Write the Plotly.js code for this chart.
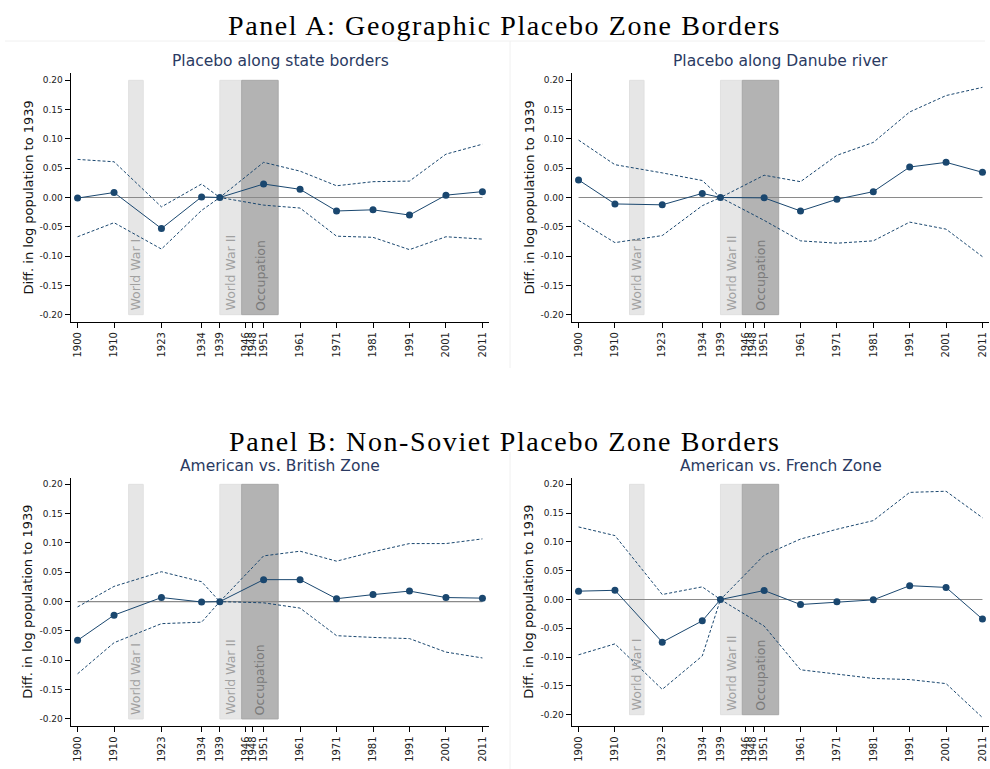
<!DOCTYPE html>
<html>
<head>
<meta charset="utf-8">
<script src="https://cdn.plot.ly/plotly-3.0.1.min.js"></script>
<style>
html,body{margin:0;padding:0;background:#fff;}
#chart{width:990px;height:769px;}
text[data-unformatted^="Panel"]{letter-spacing:1.6px;}
</style>
</head>
<body>
<div id="chart"></div>
<script>
// ---- data ----
var years = [1900, 1910, 1923, 1934, 1939, 1951, 1961, 1971, 1981, 1991, 2001, 2011];
var tickYears = [1900, 1910, 1923, 1934, 1939, 1946, 1948, 1951, 1961, 1971, 1981, 1991, 2001, 2011];
var yTickVals = [0.20, 0.15, 0.10, 0.05, 0.00, -0.05, -0.10, -0.15, -0.20];
var yTickText = ["0.20", "0.15", "0.10", "0.05", "0.00", "-0.05", "-0.10", "-0.15", "-0.20"];

var stateEst   = [-0.001, 0.0085, -0.053, 0.001, 0, 0.023, 0.014, -0.023, -0.021, -0.030, 0.004, 0.010];
var stateUpper = [0.065, 0.061, -0.016, 0.023, 0, 0.060, 0.045, 0.020, 0.027, 0.028, 0.074, 0.091];
var stateLower = [-0.067, -0.043, -0.088, -0.022, 0, -0.013, -0.018, -0.066, -0.068, -0.089, -0.067, -0.071];

var danubeEst   = [0.030, -0.011, -0.0125, 0.007, 0, -0.0006, -0.023, -0.003, 0.010, 0.052, 0.060, 0.043];
var danubeUpper = [0.098, 0.056, 0.042, 0.029, 0, 0.038, 0.027, 0.072, 0.094, 0.146, 0.174, 0.188];
var danubeLower = [-0.039, -0.077, -0.065, -0.014, 0, -0.039, -0.074, -0.078, -0.074, -0.042, -0.054, -0.101];

var britEst   = [-0.066, -0.023, 0.007, -0.0006, 0, 0.0375, 0.0375, 0.005, 0.012, 0.018, 0.007, 0.006];
var britUpper = [-0.009, 0.026, 0.051, 0.034, 0, 0.078, 0.086, 0.069, 0.085, 0.099, 0.099, 0.107];
var britLower = [-0.123, -0.070, -0.0375, -0.035, 0, -0.002, -0.011, -0.058, -0.061, -0.063, -0.086, -0.096];

var frenchEst   = [0.0145, 0.016, -0.074, -0.037, 0, 0.0156, -0.0087, -0.004, -0.0006, 0.024, 0.021, -0.034];
var frenchUpper = [0.126, 0.111, 0.0087, 0.022, 0, 0.077, 0.105, 0.122, 0.137, 0.186, 0.188, 0.142];
var frenchLower = [-0.096, -0.077, -0.156, -0.098, 0, -0.046, -0.122, -0.130, -0.137, -0.139, -0.146, -0.205];

var panelTitles = ["Placebo along state borders", "Placebo along Danube river", "American vs. British Zone", "American vs. French Zone"];
var periods = [
  {label: "World War I", x0: 1914, x1: 1918, fill: "#e6e6e6", line: "#e0e0e0", text: "#a0a0a0"},
  {label: "World War II", x0: 1939, x1: 1945, fill: "#e6e6e6", line: "#e0e0e0", text: "#a0a0a0"},
  {label: "Occupation", x0: 1945, x1: 1955, fill: "#b3b3b3", line: "#a8a8a8", text: "#7a7a7a"}
];

// ---- layout ----
var navy = "#1a476f";
var W = 990, H = 769;
var panels = [
  {est: stateEst, up: stateUpper, lo: stateLower, xd: [71, 489], yd: [73.3, 321.7], yr: [-0.212, 0.212]},
  {est: danubeEst, up: danubeUpper, lo: danubeLower, xd: [572, 989], yd: [73.3, 321.7], yr: [-0.212, 0.212]},
  {est: britEst, up: britUpper, lo: britLower, xd: [71, 489], yd: [477.7, 726], yr: [-0.212, 0.2113]},
  {est: frenchEst, up: frenchUpper, lo: frenchLower, xd: [572, 989], yd: [477.7, 726], yr: [-0.2196, 0.2115]}
];

var traces = [];
var layout = {
  width: W, height: H,
  margin: {l: 0, r: 0, t: 0, b: 0},
  paper_bgcolor: "#ffffff", plot_bgcolor: "#ffffff",
  showlegend: false,
  font: {family: "DejaVu Sans", color: "#222"},
  shapes: [], annotations: []
};

// faint frame lines of the sub-graphs
layout.shapes.push({type: "line", xref: "paper", yref: "paper", x0: 5/W, x1: 985/W, y0: 1 - 41/H, y1: 1 - 41/H, line: {color: "#f0f0f0", width: 1}});
layout.shapes.push({type: "line", xref: "paper", yref: "paper", x0: 510/W, x1: 510/W, y0: 1 - 41/H, y1: 1 - 368/H, line: {color: "#f0f0f0", width: 1}});
layout.shapes.push({type: "line", xref: "paper", yref: "paper", x0: 510/W, x1: 510/W, y0: 1 - 452/H, y1: 0, line: {color: "#f0f0f0", width: 1}});

panels.forEach(function (p, i) {
  var n = i === 0 ? "" : String(i + 1);
  var xa = "x" + n, ya = "y" + n;
  layout["xaxis" + n] = {
    domain: [p.xd[0] / W, p.xd[1] / W],
    range: [1898.2, 2012.8],
    anchor: ya,
    tickmode: "array", tickvals: tickYears, ticktext: tickYears.map(String),
    tickangle: -90, ticks: "outside", ticklen: 5, tickcolor: "#000", tickwidth: 1,
    tickfont: {size: 10, color: "#222", family: "DejaVu Sans"},
    showline: true, linecolor: "#000", linewidth: 1.4, showgrid: false, zeroline: false, mirror: false
  };
  layout["yaxis" + n] = {
    domain: [1 - p.yd[1] / H, 1 - p.yd[0] / H],
    range: p.yr,
    anchor: xa,
    tickmode: "array", tickvals: yTickVals, ticktext: yTickText,
    ticks: "outside", ticklen: 5, tickcolor: "#000", tickwidth: 1,
    tickfont: {size: 9, color: "#222", family: "DejaVu Sans"},
    showline: true, linecolor: "#000", linewidth: 1.4, showgrid: false, zeroline: false, mirror: false
  };
  periods.forEach(function (s) {
    layout.shapes.push({type: "rect", xref: xa, yref: ya, x0: s.x0, x1: s.x1, y0: -0.2, y1: 0.2,
      fillcolor: s.fill, line: {color: s.line, width: 1}, layer: "below"});
    layout.annotations.push({xref: xa, yref: ya, x: (s.x0 + s.x1) / 2, y: -0.2, text: s.label,
      textangle: -90, showarrow: false, xanchor: "center", yanchor: "bottom", yshift: 2,
      font: {size: 12.5, color: s.text, family: "DejaVu Sans"}});
  });
  // subplot title
  layout.annotations.push({xref: "paper", yref: "paper", x: (p.xd[0] + p.xd[1]) / 2 / W, y: 1 - (p.yd[0] - 12) / H,
    text: panelTitles[i], showarrow: false, xanchor: "center", yanchor: "middle",
    font: {size: 15.5, color: "#2a3a62", family: "DejaVu Sans"}});
  // y title
  layout.annotations.push({xref: "paper", yref: "paper", x: (p.xd[0] - 43) / W, y: 1 - (p.yd[0] + p.yd[1]) / 2 / H,
    text: "Diff. in log population to 1939", textangle: -90, showarrow: false, xanchor: "center", yanchor: "middle",
    font: {size: 13, color: "#111", family: "DejaVu Sans"}});

  traces.push({x: [years[0], years[years.length - 1]], y: [0, 0], xaxis: xa, yaxis: ya, mode: "lines",
    line: {color: "#8a8a8a", width: 1.2}, hoverinfo: "skip"});
  traces.push({x: years, y: p.up, xaxis: xa, yaxis: ya, mode: "lines",
    line: {color: navy, width: 1, dash: "3px,2px"}});
  traces.push({x: years, y: p.lo, xaxis: xa, yaxis: ya, mode: "lines",
    line: {color: navy, width: 1, dash: "3px,2px"}});
  traces.push({x: years, y: p.est, xaxis: xa, yaxis: ya, mode: "lines+markers",
    line: {color: navy, width: 1}, marker: {color: navy, size: 7}});
});

layout.annotations.push({xref: "paper", yref: "paper", x: 505 / W, y: 1 - 25 / H, text: "Panel A: Geographic Placebo Zone Borders",
  showarrow: false, xanchor: "center", yanchor: "middle", font: {size: 28, color: "#000", family: "Liberation Serif"}});
layout.annotations.push({xref: "paper", yref: "paper", x: 505 / W, y: 1 - 441 / H, text: "Panel B: Non-Soviet Placebo Zone Borders",
  showarrow: false, xanchor: "center", yanchor: "middle", font: {size: 28, color: "#000", family: "Liberation Serif"}});

Plotly.newPlot("chart", traces, layout, {staticPlot: true, displayModeBar: false});
</script>
</body>
</html>
